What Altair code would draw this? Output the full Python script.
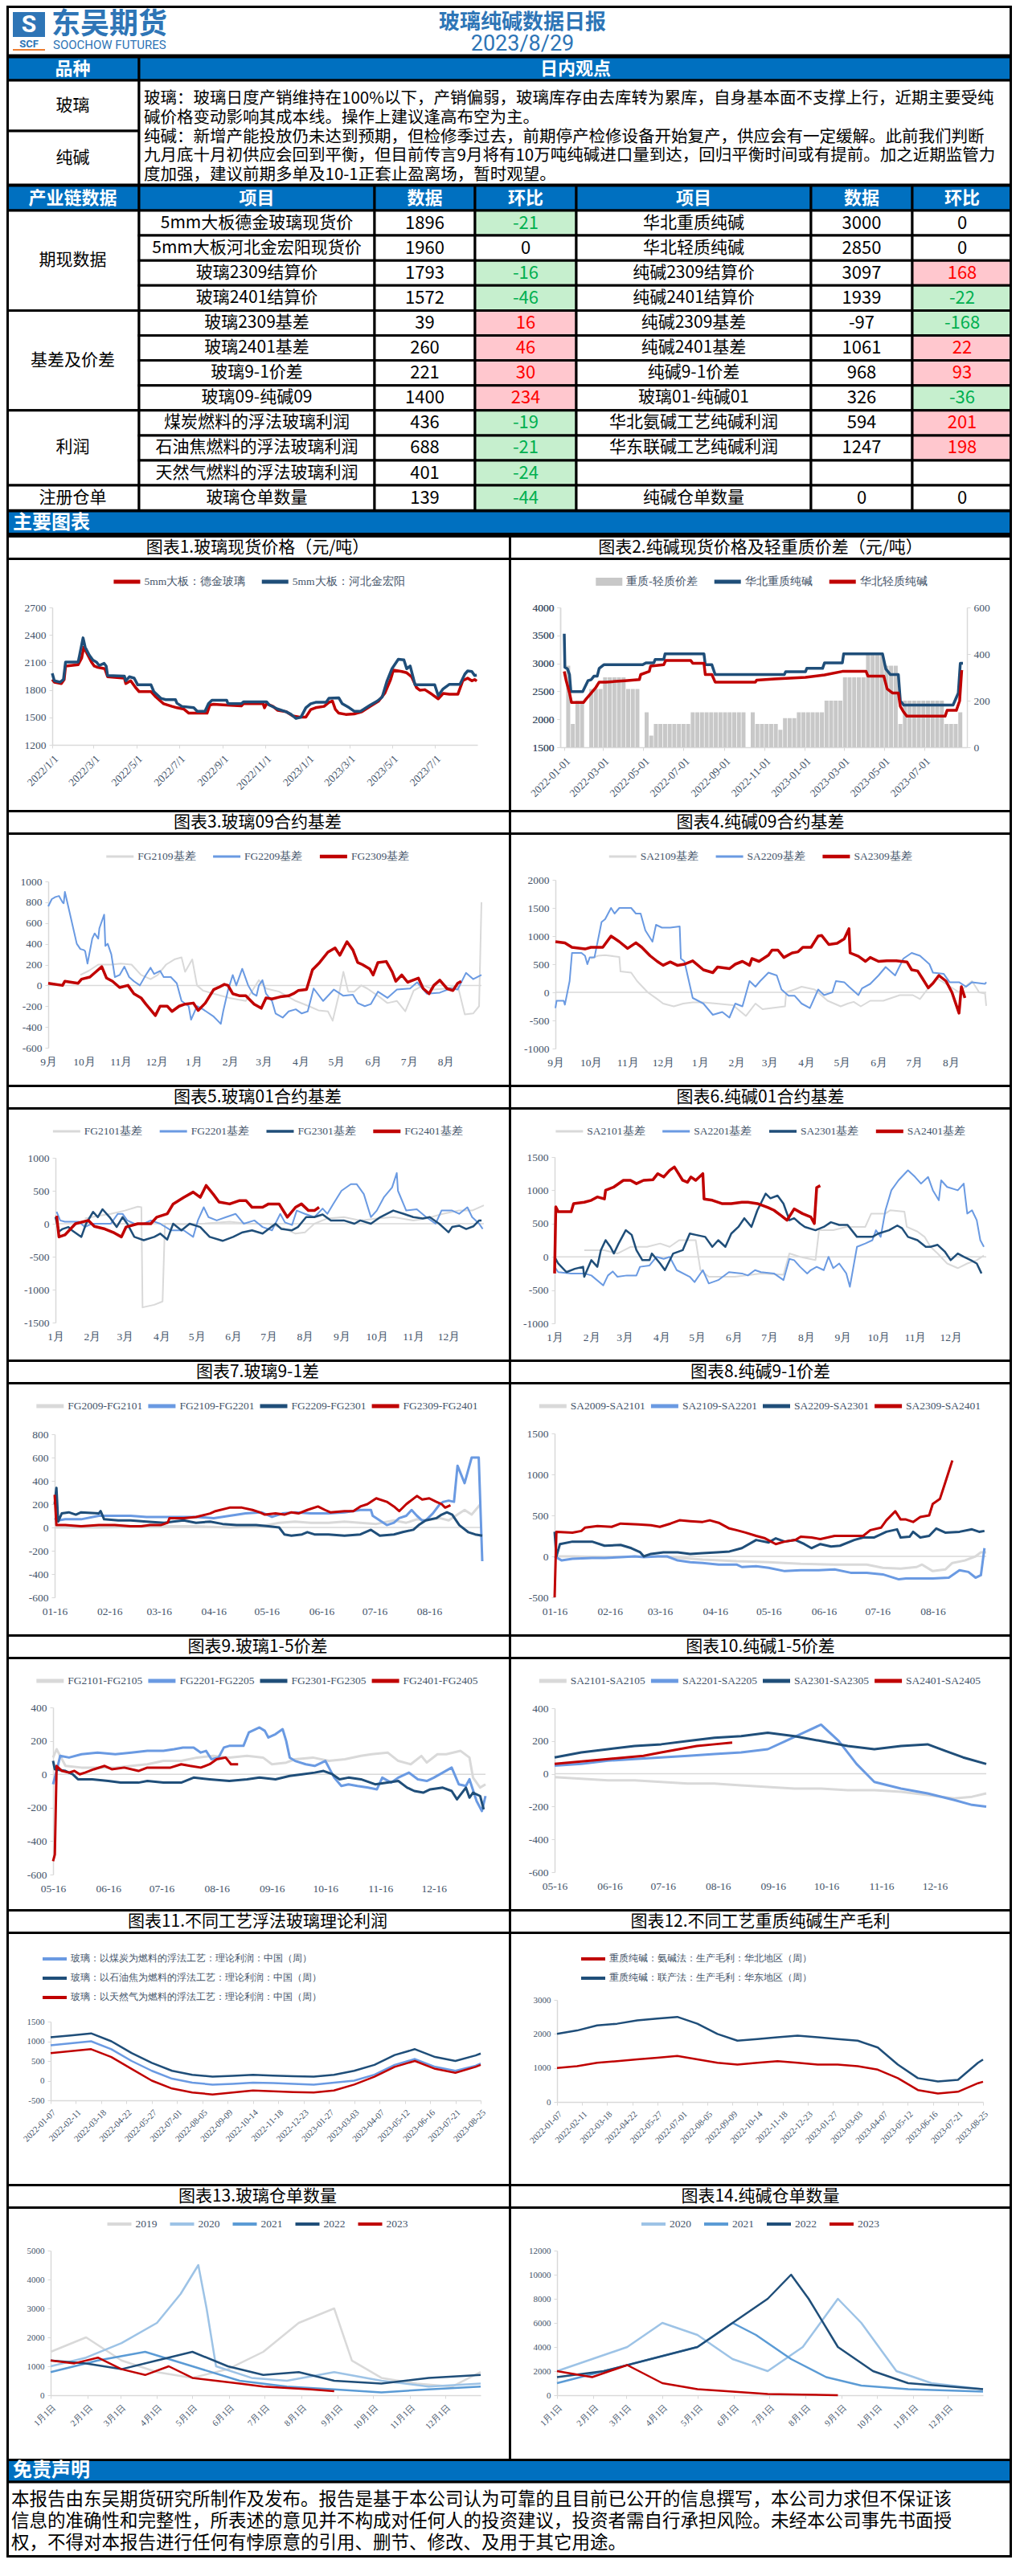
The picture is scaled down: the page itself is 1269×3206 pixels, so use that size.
import altair as alt
import pandas as pd

# ------------------------------------------------------------------ palette & fonts
CJK = "Noto Sans CJK SC"
SERIF = "Liberation Serif"
SANS = "Roboto"
INK = "#000000"
WHITE = "#FFFFFF"
LABEL_C = "#44546A"
AXIS_C = "#D9D9D9"
BAND = "#0070C0"
LOGO = "#2E75B6"
RED = "#C00000"
NAVY = "#1F4E79"
LBLUE = "#6A9AE2"
PALE = "#9DC3E6"
MIDBLUE = "#5B9BD5"
LGRAY = "#D9D9D9"
BARGRAY = "#C8C8C8"
UP_BG, UP_FG = "#FFC7CE", "#FF0000"
DN_BG, DN_FG = "#C6EFCE", "#00B050"

# ------------------------------------------------------------------ page geometry
PAGE_W = 1251
PW_L, PW_R = 625, 626
PH, TH = 314, 28
TOP_H, FOOT_H = 659, 123
COLS = [0, 165, 458, 583, 709, 1001, 1127, 1251]
ROW_TOP, ROW_H = 255, 31.1
LINE_W = 3

# ------------------------------------------------------------------ report text
REPORT_TITLE = "玻璃纯碱数据日报"
REPORT_DATE = "2023/8/29"
VIEW_LINES = [
    "玻璃：玻璃日度产销维持在100%以下，产销偏弱，玻璃库存由去库转为累库，自身基本面不支撑上行，近期主要受纯",
    "碱价格变动影响其成本线。操作上建议逢高布空为主。",
    "纯碱：新增产能投放仍未达到预期，但检修季过去，前期停产检修设备开始复产，供应会有一定缓解。此前我们判断",
    "九月底十月初供应会回到平衡，但目前传言9月将有10万吨纯碱进口量到达，回归平衡时间或有提前。加之近期监管力",
    "度加强，建议前期多单及10-1正套止盈离场，暂时观望。",
]
DISCLAIMER_LINES = [
    "本报告由东吴期货研究所制作及发布。报告是基于本公司认为可靠的且目前已公开的信息撰写，本公司力求但不保证该",
    "信息的准确性和完整性，所表述的意见并不构成对任何人的投资建议，投资者需自行承担风险。未经本公司事先书面授",
    "权，不得对本报告进行任何有悖原意的引用、删节、修改、及用于其它用途。",
]

# ------------------------------------------------------------------ data table
TABLE_HEAD = ["产业链数据", "项目", "数据", "环比", "项目", "数据", "环比"]
GROUPS = [("期现数据", 4), ("基差及价差", 4), ("利润", 3), ("注册仓单", 1)]
LEFT_ITEMS = ["5mm大板德金玻璃现货价", "5mm大板河北金宏阳现货价", "玻璃2309结算价", "玻璃2401结算价",
              "玻璃2309基差", "玻璃2401基差", "玻璃9-1价差", "玻璃09-纯碱09",
              "煤炭燃料的浮法玻璃利润", "石油焦燃料的浮法玻璃利润", "天然气燃料的浮法玻璃利润", "玻璃仓单数量"]
LEFT_VALUES = [1896, 1960, 1793, 1572, 39, 260, 221, 1400, 436, 688, 401, 139]
LEFT_CHANGES = [-21, 0, -16, -46, 16, 46, 30, 234, -19, -21, -24, -44]
RIGHT_ITEMS = ["华北重质纯碱", "华北轻质纯碱", "纯碱2309结算价", "纯碱2401结算价",
               "纯碱2309基差", "纯碱2401基差", "纯碱9-1价差", "玻璃01-纯碱01",
               "华北氨碱工艺纯碱利润", "华东联碱工艺纯碱利润", "", "纯碱仓单数量"]
RIGHT_VALUES = [3000, 2850, 3097, 1939, -97, 1061, 968, 326, 594, 1247, None, 0]
RIGHT_CHANGES = [0, 0, 168, -22, -168, 22, 93, -36, 201, 198, None, 0]

# ------------------------------------------------------------------ chart series: (day offset, value)
# Chart 1, days from 2022-01-01
GLASS_DEJIN = [(0,1913),(3,1884),(13,1869),(17,1913),(19,2060),(37,2075),(42,2148),(45,2266),(49,2207),(56,2104),(60,2060),(65,2046),(75,2031),(79,1943),(103,1928),(105,1869),(112,1899),(119,1825),(124,1781),(141,1781),(148,1722),(159,1649),(171,1620),(178,1605),(188,1590),(195,1546),(221,1546),(225,1634),(230,1643),(249,1634),(270,1626),(273,1649),(301,1649),(303,1605),(306,1649),(315,1620),(322,1576),(334,1561),(343,1517),(353,1502),(362,1502),(369,1585),(376,1605),(388,1620),(395,1664),(400,1678),(404,1590),(409,1546),(419,1532),(431,1537),(442,1561),(454,1620),(466,1678),(475,1767),(483,1913),(487,2016),(499,2001),(506,1987),(513,1943),(520,1825),(525,1796),(532,1802),(542,1752),(551,1702),(558,1761),(567,1752),(579,1752),(586,1899),(593,1928),(599,1899),(603,1913),(606,1896)]
GLASS_JINHONGYANG = [(0,1981),(3,1899),(11,1884),(16,1913),(19,2104),(37,2104),(39,2178),(44,2368),(47,2266),(53,2178),(58,2125),(63,2104),(67,2066),(74,2090),(77,2060),(79,1957),(103,1949),(105,1899),(110,1943),(117,1928),(122,1855),(141,1855),(145,1781),(155,1708),(162,1693),(176,1693),(178,1655),(185,1620),(202,1605),(207,1567),(218,1567),(223,1649),(228,1687),(249,1687),(251,1649),(270,1649),(273,1670),(306,1670),(310,1634),(322,1590),(334,1561),(341,1532),(348,1488),(355,1502),(362,1605),(369,1649),(376,1664),(391,1664),(395,1708),(409,1714),(414,1649),(424,1605),(431,1567),(440,1567),(445,1590),(454,1634),(464,1678),(471,1722),(478,1899),(485,2031),(494,2134),(502,2128),(506,2031),(511,2060),(518,1855),(546,1855),(551,1737),(558,1811),(567,1861),(582,1861),(589,1972),(593,2007),(599,2001),(603,1957),(606,1960)]

# Chart 2, days from 2022-01-01
SODA_HEAVY = [(0,3530),(1,2928),(5,2900),(8,2800),(10,2495),(28,2495),(36,2690),(41,2710),(45,2770),(50,2770),(53,2910),(60,2975),(119,2975),(124,3010),(136,3010),(138,3070),(151,3070),(153,3170),(212,3170),(214,2975),(224,2975),(229,2800),(334,2800),(336,2850),(366,2850),(368,2910),(392,2910),(395,3010),(422,3010),(424,3170),(483,3170),(488,2900),(495,2800),(507,2800),(510,2330),(515,2255),(590,2255),(598,2470),(601,3000),(605,3000)]
SODA_LIGHT = [(0,2856),(3,2688),(8,2470),(11,2300),(29,2300),(34,2375),(41,2470),(48,2570),(53,2665),(63,2665),(92,2690),(114,2710),(116,2800),(129,2855),(131,2950),(151,2975),(154,3050),(192,3050),(195,3000),(212,3000),(214,2800),(224,2800),(229,2665),(290,2665),(292,2700),(319,2720),(366,2750),(395,2793),(422,2856),(458,2856),(461,2770),(485,2770),(490,2543),(498,2470),(507,2470),(510,2230),(515,2130),(520,2055),(578,2055),(581,2160),(595,2160),(600,2330),(603,2856),(605,2850)]
# weekly heavy-light spread (Fridays from 2022-01-07)
SPREAD_WEEKLY = [350,100,200,200, 0,250,250,250, 300,300,300,300, 300,250,250,250,0, 150,50,100,100,
                 100,100,100,100, 100,100,150,150,150, 150,150,150,150, 150,150,150,150,150,
                 0,150,100,100, 100,100,100,75, 125,125,125,150,150,
                 150,150,150,150, 200,200,200,200, 300,300,300,300,300, 400,400,400,400,
                 350,350,350,100, 200,200,200,200,200, 200,200,200,200, 100,100,100,150]

# Chart 3, days from 2022-09-01
FG2109_BASIS = [(27,100),(34,140),(42,200),(53,200),(61,210),(70,200),(78,100),(86,60),(92,100),(99,200),(106,250),(112,270),(115,130),(121,250),(125,0),(130,-50),(139,-80),(152,-120),(166,-150),(177,50),(183,-30),(194,-60),(208,-150),(219,-200),(227,-240),(235,-250),(239,-340),(244,-100),(248,130),(252,-60),(257,-60),(263,0),(268,-30),(277,-100),(285,-170),(293,-150),(300,-250),(307,-50),(315,0),(324,-40),(335,-30),(344,0),(350,-280),(357,-270),(362,-200),(364,800)]
FG2209_BASIS = [(0,760),(3,830),(6,850),(9,860),(12,800),(13,790),(14,900),(18,700),(24,400),(27,350),(30,340),(31,330),(33,210),(37,450),(39,500),(42,450),(43,550),(47,680),(48,380),(50,400),(53,300),(56,80),(60,100),(64,180),(68,80),(72,40),(77,0),(82,100),(86,170),(89,110),(94,140),(97,80),(103,80),(108,20),(112,-150),(118,-200),(120,-330),(125,-200),(130,-230),(139,-300),(145,-370),(147,-250),(151,-50),(155,100),(158,0),(163,160),(168,0),(172,-80),(175,-100),(177,0),(180,50),(183,-80),(188,-150),(191,-270),(197,-310),(202,-250),(208,-230),(213,-270),(218,-250),(223,-30),(231,-150),(240,-40),(248,-100),(256,-90),(260,-170),(266,-200),(271,-180),(277,-60),(285,-120),(293,-40),(304,-30),(310,30),(318,-80),(329,-70),(338,-30),(344,-40),(351,120),(357,60),(364,100)]
FG2309_BASIS = [(0,20),(12,0),(14,40),(25,20),(28,60),(35,80),(41,140),(45,180),(49,70),(54,40),(60,-20),(67,0),(72,-80),(78,-120),(82,-180),(85,-220),(90,-290),(94,-200),(100,-200),(104,-250),(110,-200),(115,-180),(122,-170),(126,-240),(132,-170),(139,-40),(143,-20),(148,10),(151,0),(155,-80),(161,-100),(166,-100),(173,-180),(179,-220),(183,-120),(188,-130),(195,-110),(202,-100),(206,-80),(210,-50),(217,-40),(222,150),(228,220),(235,320),(241,360),(245,290),(251,420),(256,340),(260,220),(264,200),(270,160),(273,100),(277,220),(284,230),(289,130),(292,40),(297,100),(302,30),(311,70),(315,-30),(320,-80),(324,0),(329,50),(335,-30),(340,-50),(344,20),(347,40)]

# Chart 4, days from 2022-09-01
SA2109_BASIS = [(30,600),(36,650),(42,660),(54,630),(55,370),(64,350),(69,200),(78,0),(86,-120),(91,-200),(100,-250),(108,-200),(116,-180),(125,-180),(136,-200),(150,-230),(161,-420),(169,-200),(175,-300),(186,-270),(194,-250),(195,0),(202,50),(208,100),(219,50),(230,-150),(241,-250),(247,-200),(252,-170),(258,-250),(266,-150),(277,-150),(291,-50),(302,-50),(308,-120),(316,100),(322,250),(330,150),(341,0),(349,150),(352,200),(358,0),(363,-20),(364,-240)]
SA2209_BASIS = [(0,-280),(1,-150),(7,-150),(8,-220),(12,200),(14,700),(22,700),(25,650),(27,500),(29,620),(33,620),(39,1250),(42,1300),(47,1500),(50,1400),(54,1500),(64,1500),(68,1400),(72,1400),(76,1100),(82,900),(85,1200),(90,1150),(97,1150),(105,1170),(106,600),(109,550),(116,-100),(125,-200),(133,-400),(141,-350),(147,-450),(152,-200),(158,-250),(164,200),(169,100),(173,200),(180,350),(187,300),(191,50),(197,-60),(202,-60),(208,-200),(215,-280),(222,50),(227,-50),(234,0),(237,200),(244,180),(248,100),(256,-50),(259,70),(266,150),(273,300),(279,450),(287,300),(294,600),(301,700),(308,650),(316,500),(319,350),(328,330),(333,180),(341,180),(347,100),(352,180),(363,150),(364,180)]
SA2309_BASIS = [(0,900),(8,880),(14,800),(25,770),(30,800),(40,800),(47,1000),(54,900),(61,780),(68,880),(73,800),(80,650),(86,550),(91,480),(97,540),(103,480),(109,500),(116,560),(125,400),(133,350),(137,450),(147,420),(152,500),(158,550),(164,480),(166,600),(172,550),(180,660),(183,750),(188,750),(193,620),(200,700),(205,720),(209,800),(216,800),(222,1000),(225,1010),(231,850),(238,870),(244,950),(248,1130),(249,700),(256,640),(262,550),(266,620),(273,550),(280,560),(288,560),(297,540),(301,400),(306,380),(310,250),(315,80),(319,160),(324,300),(330,200),(335,0),(341,-370),(343,100),(346,-100)]

# Chart 5, days from 2023-01-01
FG2101_BASIS = [(25,80),(36,120),(47,150),(59,200),(70,260),(73,250),(74,-1270),(84,-1230),(91,-1180),(93,0),(109,-10),(125,0),(148,30),(164,0),(181,0),(195,-80),(204,-150),(212,-130),(220,0),(231,80),(245,100),(259,50),(273,80),(287,100),(304,50),(315,80),(329,150),(343,200),(354,200),(364,280)]
FG2201_BASIS = [(1,180),(4,50),(8,30),(20,30),(25,-50),(31,0),(36,0),(47,0),(53,150),(57,150),(61,50),(67,0),(75,0),(81,50),(89,0),(98,-100),(109,-100),(117,-200),(121,50),(126,250),(130,100),(137,50),(145,100),(153,150),(160,0),(169,50),(176,-50),(184,-100),(191,150),(195,20),(201,-20),(205,200),(212,150),(220,100),(227,230),(231,150),(236,300),(243,500),(251,600),(256,600),(262,450),(268,100),(273,200),(279,400),(286,550),(290,770),(291,500),(298,200),(307,220),(315,100),(323,0),(328,200),(337,200),(343,150),(350,250),(354,100),(360,0),(363,-80)]
FG2301_BASIS = [(0,100),(3,-120),(6,-80),(11,-50),(14,-100),(22,-200),(26,0),(32,180),(36,100),(40,220),(46,100),(52,-50),(57,100),(61,0),(67,-200),(75,-250),(84,-200),(89,-150),(95,-240),(100,0),(107,-100),(114,0),(123,-50),(131,-200),(142,-260),(151,-200),(159,-130),(167,-100),(176,-150),(187,0),(192,-80),(201,-100),(206,-50),(213,100),(220,100),(227,140),(234,50),(245,50),(254,0),(259,50),(268,0),(276,100),(287,200),(296,150),(304,100),(312,80),(318,100),(326,0),(334,-130),(337,-50),(343,-30),(349,-80),(355,-40),(360,50),(362,50)]
FG2401_BASIS = [(1,120),(3,-200),(8,-170),(17,0),(28,50),(33,-40),(42,-80),(50,-140),(56,-200),(60,-50),(70,0),(81,0),(86,100),(95,150),(100,300),(109,400),(117,480),(123,400),(128,580),(134,450),(139,330),(148,300),(156,350),(162,350),(167,250),(176,250),(181,300),(190,300),(197,100),(204,250),(209,300),(215,200),(220,200),(224,250)]

# Chart 6, days from 2023-01-01
SA2101_BASIS = [(25,100),(42,100),(53,50),(64,150),(78,150),(89,200),(97,150),(105,250),(119,250),(123,-200),(130,-300),(152,-300),(174,-250),(193,-270),(198,50),(207,0),(220,-50),(223,400),(235,400),(246,450),(262,450),(267,650),(279,650),(283,700),(295,680),(297,450),(306,380),(312,300),(317,150),(323,50),(331,-100),(340,-170),(348,-100),(356,-50),(362,20)]
SA2201_BASIS = [(0,-150),(3,-230),(14,-250),(25,-250),(31,-280),(41,-430),(45,-280),(49,-220),(53,-300),(61,-280),(69,-280),(72,-150),(80,-130),(86,0),(92,-30),(97,0),(103,-200),(114,-300),(118,-380),(125,-200),(130,-400),(138,-350),(147,-230),(158,-250),(163,-280),(169,-200),(174,-230),(185,-250),(193,-350),(198,-30),(202,-50),(207,-150),(213,-250),(216,-200),(221,-150),(227,-200),(231,0),(235,-170),(240,-100),(246,-250),(249,-450),(255,150),(262,200),(268,250),(271,400),(275,300),(279,700),(284,1000),(290,1150),(298,1300),(304,1200),(309,1100),(315,1200),(319,1000),(324,850),(326,1150),(331,1050),(340,1000),(345,1100),(348,650),(352,700),(356,550),(359,250),(362,150)]
SA2301_BASIS = [(0,0),(3,-100),(10,-230),(17,-180),(24,-150),(25,-300),(31,-50),(36,-150),(39,100),(43,250),(47,150),(50,50),(54,200),(60,400),(65,330),(69,100),(74,-50),(80,-50),(82,50),(89,-100),(93,-200),(100,50),(108,100),(114,350),(119,330),(127,300),(133,150),(138,250),(144,150),(149,350),(155,450),(160,580),(166,450),(171,700),(178,950),(182,880),(188,920),(193,800),(198,550),(202,580),(207,500),(211,450),(220,400),(227,450),(233,520),(240,480),(247,480),(255,300),(268,300),(273,350),(282,400),(289,470),(293,430),(298,300),(306,250),(313,150),(317,150),(323,180),(329,80),(334,-50),(340,50),(345,0),(351,-50),(356,-100),(360,-250)]
SA2401_BASIS = [(0,-250),(1,750),(3,680),(14,680),(16,800),(25,820),(31,850),(36,900),(42,870),(43,1000),(50,1050),(58,1150),(64,1150),(69,1100),(75,1150),(83,1160),(87,1250),(92,1200),(97,1300),(101,1350),(108,1150),(112,1120),(115,1200),(119,1150),(125,1250),(126,870),(133,850),(141,800),(149,800),(158,820),(163,820),(171,800),(180,740),(185,700),(191,620),(196,550),(202,720),(209,650),(216,600),(219,500),(221,1040),(224,1070)]

# Chart 7, days from 2023-01-16
FG2009_2101 = [(0,0),(25,0),(62,10),(80,10),(99,0),(117,10),(127,40),(136,50),(145,40),(155,40),(164,50),(173,40),(182,30),(192,60),(199,40),(205,70),(210,60),(218,80),(223,60),(229,120),(232,150),(236,110),(241,200)]
FG2109_2201 = [(0,80),(2,60),(6,70),(15,70),(25,100),(34,100),(43,100),(52,90),(62,90),(71,90),(80,90),(90,80),(99,100),(108,120),(117,130),(123,90),(129,120),(136,130),(145,120),(155,120),(164,130),(173,150),(179,150),(180,100),(184,60),(188,20),(192,40),(195,80),(199,100),(202,150),(205,100),(208,60),(210,60),(214,120),(218,200),(220,220),(223,230),(226,220),(228,530),(232,380),(236,600),(240,600),(242,-290)]
FG2209_2301 = [(0,200),(1,340),(2,50),(4,120),(8,130),(12,110),(15,130),(25,120),(26,140),(28,70),(36,60),(43,60),(52,50),(62,40),(67,50),(73,60),(80,40),(88,50),(95,30),(103,20),(114,20),(121,10),(127,0),(130,-60),(134,-70),(140,-60),(143,-40),(147,-60),(155,-60),(164,-70),(173,-60),(179,-20),(184,-70),(192,-60),(197,-40),(203,-20),(206,20),(210,60),(216,80),(219,110),(222,130),(225,110),(229,20),(234,-40),(238,-60),(242,-70)]
FG2309_2401 = [(0,280),(1,20),(6,20),(15,10),(25,20),(34,20),(43,10),(49,10),(54,20),(60,20),(64,40),(65,80),(73,80),(80,90),(88,120),(91,140),(99,170),(106,170),(112,150),(116,130),(119,110),(125,120),(130,110),(134,130),(138,120),(143,150),(149,180),(153,150),(156,130),(164,140),(169,140),(173,180),(177,200),(182,250),(188,220),(192,180),(195,140),(199,200),(205,270),(208,240),(212,250),(216,220),(219,200),(221,170),(224,190)]

# Chart 8, days from 2023-01-16
SA2009_2101 = [(0,0),(10,0),(28,-10),(56,0),(65,-10),(83,-40),(102,-60),(120,-70),(138,-90),(157,-100),(175,-100),(184,-140),(194,-150),(203,-130),(206,-100),(212,-180),(219,-160),(223,-80),(230,-50),(236,0),(239,50),(242,50)]
SA2109_2201 = [(0,0),(4,-50),(10,-30),(21,-20),(28,-20),(37,-10),(45,0),(50,-10),(58,0),(63,0),(69,-50),(76,-70),(83,-80),(92,-100),(102,-100),(105,-130),(113,-120),(120,-140),(129,-180),(138,-170),(148,-170),(157,-160),(166,-200),(175,-200),(184,-220),(193,-280),(197,-270),(205,-270),(212,-270),(221,-260),(227,-170),(232,-190),(236,-260),(239,-230),(241,100)]
SA2209_2301 = [(0,300),(1,0),(3,150),(10,180),(21,180),(28,130),(37,140),(43,100),(48,50),(50,0),(54,30),(61,50),(69,50),(76,30),(83,40),(91,50),(98,60),(105,100),(113,200),(120,170),(124,220),(129,180),(135,200),(140,150),(144,100),(149,150),(155,120),(160,130),(168,200),(173,230),(179,230),(186,300),(192,330),(194,230),(199,240),(201,300),(205,230),(210,250),(214,340),(219,290),(227,300),(234,330),(238,300),(241,310)]
SA2309_2401 = [(0,-500),(1,300),(10,290),(15,310),(17,350),(24,370),(32,360),(37,400),(47,390),(54,380),(59,360),(65,400),(70,440),(76,430),(83,420),(87,440),(92,410),(98,340),(102,320),(107,290),(113,250),(118,220),(124,150),(129,180),(135,200),(138,240),(144,230),(149,210),(157,250),(166,250),(173,250),(177,320),(183,350),(186,440),(191,550),(194,450),(197,450),(201,420),(205,480),(210,500),(212,640),(216,700),(219,900),(223,1170)]

# Chart 9, days from 2023-05-16
FG2101_2105 = [(0,100),(2,150),(7,50),(16,40),(25,40),(35,40),(44,50),(53,60),(62,80),(72,80),(81,100),(90,110),(99,100),(109,110),(118,100),(123,60),(131,70),(136,90),(146,100),(155,80),(164,90),(173,110),(179,120),(188,130),(194,80),(201,60),(207,110),(210,70),(216,120),(221,120),(229,140),(234,100),(236,-20),(240,-80),(243,-60)]
FG2201_2205 = [(0,-60),(2,20),(4,110),(9,100),(16,120),(25,130),(35,120),(44,130),(53,140),(62,140),(68,150),(73,160),(79,160),(83,130),(86,140),(89,90),(93,100),(96,160),(99,170),(107,170),(110,250),(116,280),(119,260),(121,220),(125,240),(129,270),(131,200),(133,100),(136,80),(142,60),(147,50),(153,80),(158,-20),(162,-70),(166,-60),(171,-70),(177,-80),(182,-90),(185,-20),(190,-50),(194,-20),(200,10),(205,-30),(210,-40),(214,-20),(219,10),(224,40),(228,-60),(232,-70),(234,-30),(238,-160),(241,-220),(243,-130)]
FG2301_2305 = [(0,80),(1,30),(7,20),(11,0),(14,-30),(22,-30),(31,-40),(38,-50),(48,-50),(53,-40),(62,-50),(72,-50),(79,-20),(88,-30),(99,-40),(109,-30),(116,-20),(125,-30),(133,-10),(140,0),(147,10),(152,20),(157,0),(161,-30),(166,-20),(173,-30),(181,-60),(188,-50),(194,-40),(199,-80),(203,-100),(208,-110),(212,-90),(219,-80),(224,-100),(227,-150),(232,-80),(234,-140),(236,-110),(240,-130),(242,-210)]
FG2401_2405 = [(0,-520),(1,-480),(2,50),(5,20),(9,10),(12,20),(15,0),(18,10),(23,30),(29,50),(33,30),(40,40),(48,20),(53,40),(59,40),(66,40),(72,60),(77,50),(83,40),(88,60),(92,90),(97,100),(100,60),(104,60)]

# Chart 10, days from 2023-05-16
SA2101_2105 = [(0,-20),(15,-30),(30,-40),(45,-40),(60,-50),(75,-60),(90,-60),(105,-70),(120,-80),(135,-90),(150,-90),(165,-100),(180,-100),(195,-110),(210,-130),(225,-150),(235,-140),(243,-120)]
SA2201_2205 = [(0,50),(15,60),(30,80),(45,90),(60,100),(75,110),(90,120),(105,130),(120,150),(130,200),(140,250),(150,300),(160,200),(170,60),(180,-50),(195,-90),(210,-120),(225,-160),(235,-190),(243,-200)]
SA2301_2305 = [(0,100),(15,130),(30,150),(45,170),(60,180),(75,200),(90,220),(105,230),(120,250),(135,230),(150,200),(165,170),(180,150),(195,170),(210,180),(220,140),(230,100),(243,60)]
SA2401_2405 = [(0,60),(10,70),(20,80),(30,90),(40,100),(50,110),(60,130),(70,150),(80,170),(90,180),(100,190)]

# Chart 11, days from 2022-01-07
PROFIT_COAL = [(0,900),(28,950),(56,1000),(84,800),(112,500),(140,250),(168,50),(196,-50),(224,-100),(252,-80),(280,-50),(308,-60),(336,-80),(364,-100),(392,-50),(420,0),(448,150),(476,400),(504,550),(532,350),(560,250),(588,380),(595,436)]
PROFIT_PETCOKE = [(0,1100),(28,1150),(56,1200),(84,1000),(112,700),(140,450),(168,250),(196,150),(224,100),(252,120),(280,150),(308,130),(336,110),(364,100),(392,150),(420,250),(448,400),(476,650),(504,800),(532,600),(560,500),(588,640),(595,688)]
PROFIT_GAS = [(0,700),(28,750),(56,800),(84,600),(112,300),(140,0),(168,-200),(196,-300),(224,-350),(252,-300),(280,-250),(308,-270),(336,-290),(364,-300),(392,-250),(420,-100),(448,100),(476,350),(504,500),(532,300),(560,200),(588,350),(595,401)]

# Chart 12, days from 2022-01-07
SODA_AMMONIA = [(0,1000),(28,1050),(56,1150),(84,1200),(112,1250),(140,1300),(168,1350),(196,1250),(224,1150),(252,1100),(280,1150),(308,1200),(336,1150),(364,1100),(392,1100),(420,1050),(448,950),(476,700),(504,350),(532,250),(560,300),(588,550),(595,594)]
SODA_JOINT = [(0,2000),(28,2100),(56,2250),(84,2300),(112,2400),(140,2450),(168,2500),(196,2300),(224,2000),(252,1800),(280,1850),(308,1900),(336,1950),(364,1900),(392,1850),(420,1800),(448,1600),(476,1100),(504,700),(532,600),(560,650),(588,1150),(595,1247)]

# Chart 13, glass warehouse receipts, days from Jan 1 of each year
GLASS_WR_2019 = [(0,1500),(30,2000),(60,1200),(90,800),(120,600),(150,900),(180,1500),(210,2500),(240,3000),(255,1200),(280,600),(310,400),(340,300),(364,800)]
GLASS_WR_2020 = [(0,1000),(30,1300),(60,1800),(90,2500),(110,3500),(125,4500),(132,3000),(140,1000),(170,600),(200,500),(240,800),(280,500),(320,300),(364,400)]
GLASS_WR_2021 = [(0,800),(40,1200),(80,1500),(120,1000),(160,500),(200,300),(240,200),(280,100),(320,200),(364,300)]
GLASS_WR_2022 = [(0,1200),(30,1100),(60,900),(90,1200),(120,1500),(150,1000),(180,700),(210,800),(240,500),(280,400),(320,600),(364,700)]
GLASS_WR_2023 = [(0,1200),(20,1100),(40,1300),(60,900),(80,700),(100,1000),(120,600),(140,500),(160,400),(180,300),(200,250),(220,200),(240,139)]

# Chart 14, soda warehouse receipts, days from Jan 1 of each year
SODA_WR_2020 = [(0,2000),(30,3000),(60,4000),(90,6000),(120,5000),(150,3000),(180,2000),(210,4000),(240,8000),(260,6000),(290,2000),(320,1000),(364,500)]
SODA_WR_2021 = [(0,1000),(40,2000),(80,3000),(120,4000),(150,6000),(170,5000),(200,3000),(230,1500),(260,800),(300,500),(364,300)]
SODA_WR_2022 = [(0,1500),(40,2000),(80,3000),(120,4000),(150,6000),(180,8000),(200,10000),(215,8000),(240,4000),(270,2000),(300,1000),(364,500)]
SODA_WR_2023 = [(0,2000),(30,1500),(60,2500),(90,1000),(120,500),(150,300),(180,100),(210,50),(240,0)]

ONE = pd.DataFrame({"k": [0]})


# ------------------------------------------------------------------ helpers
def dt(s):
    t = pd.Timestamp(s)
    return alt.DateTime(year=t.year, month=t.month, date=t.day)


def series_frame(pairs, start):
    df = pd.DataFrame(pairs, columns=["d", "v"])
    df["date"] = pd.Timestamp(start) + pd.to_timedelta(df["d"], unit="D")
    return df[["date", "v"]]


def text_w(s, fs):
    w = 0.0
    for ch in s:
        if ord(ch) >= 0x2E80:
            w += 1.0
        elif ch.isupper():
            w += 0.66
        elif ch == "m":
            w += 0.78
        elif ch in "-.:/":
            w += 0.33
        else:
            w += 0.5
    return w * fs


def bar_rect(x, x2, y, y2):
    return alt.Chart(ONE).mark_rect(color=INK).encode(
        x=alt.value(x), x2=alt.value(x2), y=alt.value(y), y2=alt.value(y2))


def frame_layers(w, h):
    """Top and left border of a cell, plus the right border on the right-hand column."""
    out = [bar_rect(0, w, 0, LINE_W), bar_rect(0, LINE_W, 0, h)]
    if w == PW_R:
        out.append(bar_rect(w - LINE_W, w, 0, h))
    return out


def legend_layers(items, y, cx=None, left=None, fs=13.5, sw=34, pad=5, gap=16, dy=0):
    widths = [sw + pad + text_w(lbl, fs) for lbl, _, _, _ in items]
    if dy:
        xs = [left] * len(items)
        ys = [y + i * dy for i in range(len(items))]
    else:
        total = sum(widths) + gap * (len(items) - 1)
        x = cx - total / 2
        xs, ys = [], []
        for w in widths:
            xs.append(x)
            ys.append(y)
            x += w + gap
    out = []
    for (lbl, color, width, kind), x0, y0 in zip(items, xs, ys):
        if kind == "box":
            sym = alt.Chart(ONE).mark_rect(color=color).encode(
                x=alt.value(x0), x2=alt.value(x0 + sw), y=alt.value(y0 - 5), y2=alt.value(y0 + 5))
        else:
            sym = alt.Chart(ONE).mark_rect(color=color).encode(
                x=alt.value(x0), x2=alt.value(x0 + sw),
                y=alt.value(y0 - width / 2), y2=alt.value(y0 + width / 2))
        lab = alt.Chart(ONE).mark_text(text=lbl, align="left", baseline="middle", font=SERIF,
                                       fontSize=fs, color=LABEL_C).encode(
            x=alt.value(x0 + sw + pad), y=alt.value(y0))
        out += [sym, lab]
    return out


def y_axis(vals, offset, orient="left", fs=13.5):
    return alt.Axis(orient=orient, values=list(vals), offset=offset, title=None, grid=False,
                    domainColor=AXIS_C, domainWidth=1.5, ticks=True, tickColor=AXIS_C, tickSize=4,
                    labelColor=LABEL_C, labelFont=SERIF, labelFontSize=fs, labelPadding=4,
                    labelExpr="'' + datum.value", labelOverlap=False, labelFlush=False)


def x_axis(vals, fmt, offset, angle=None, domain=False, fs=13.5, pad=10):
    kw = dict(values=vals, format=fmt, offset=offset, title=None, grid=False, domain=domain,
              domainColor=AXIS_C, domainWidth=1.5, ticks=domain, tickColor=AXIS_C, tickSize=4,
              labelColor=LABEL_C, labelFont=SERIF, labelFontSize=fs, labelPadding=pad,
              labelOverlap=False, labelFlush=False)
    if angle is not None:
        kw["labelAngle"] = angle
    return alt.Axis(**kw)


def line_panel(w, rect, start, xdom, xticks, xfmt, ydom, ystep, series, legend,
               angle=None, zero=True, xline=False, label_pad=10, fs=13.5):
    px0, px1, py0, py1 = rect
    xs = alt.Scale(domain=[dt(xdom[0]), dt(xdom[1])], range=[px0, px1], nice=False)
    ys = alt.Scale(domain=list(ydom), range=[py1, py0], nice=False, zero=False)
    X = alt.X("date:T", scale=xs,
              axis=x_axis([dt(t) for t in xticks], xfmt, py1 - PH, angle, xline, fs, label_pad))
    Y = alt.Y("v:Q", scale=ys, axis=y_axis(range(ydom[0], ydom[1] + 1, ystep), -px0, fs=fs))
    layers = []
    if zero:
        layers.append(alt.Chart(pd.DataFrame({"v": [0]})).mark_rule(color=AXIS_C, strokeWidth=1.5)
                      .encode(x=alt.value(px0), x2=alt.value(px1), y=Y))
    for pairs, color, width in series:
        layers.append(alt.Chart(series_frame(pairs, start))
                      .mark_line(color=color, strokeWidth=width, strokeJoin="round")
                      .encode(x=X, y=Y))
    layers += legend
    layers += frame_layers(w, PH)
    return alt.layer(*layers).properties(width=w, height=PH)


def titled(title, chart, w):
    head = alt.layer(
        alt.Chart(ONE).mark_text(text=title, font=CJK, fontSize=21, color=INK).encode(
            x=alt.value(w / 2), y=alt.value(TH / 2 + 1.5)),
        *frame_layers(w, TH)).properties(width=w, height=TH)
    return alt.vconcat(head, chart, spacing=0)


def canvas(rects, texts, h):
    rdf = pd.DataFrame(rects)
    layers = [alt.Chart(rdf).mark_rect().encode(
        x=alt.X("x:Q", scale=None), x2="x2", y=alt.Y("y:Q", scale=None), y2="y2",
        fill=alt.Fill("fill:N", scale=None), stroke=alt.Stroke("stroke:N", scale=None),
        strokeWidth=alt.StrokeWidth("sw:Q", scale=None))]
    tdf = pd.DataFrame(texts)
    for (align, bold, font), g in tdf.groupby(["align", "bold", "font"]):
        layers.append(alt.Chart(g.drop(columns=["align", "bold", "font"])).mark_text(
            align=align, baseline="middle", font=font, fontWeight="bold" if bold else "normal").encode(
            x=alt.X("x:Q", scale=None), y=alt.Y("y:Q", scale=None), text="t:N",
            color=alt.Color("c:N", scale=None), size=alt.Size("fs:Q", scale=None)))
    return alt.layer(*layers).properties(width=PAGE_W, height=h)


def clamp_rect(x, x2, y, y2, h):
    e = LINE_W / 2
    return max(x, e), min(x2, PAGE_W - e), max(y, e), min(y2, h - e)


# ------------------------------------------------------------------ header, views and data table
def build_top():
    R, T = [], []

    def rect(x, x2, y, y2, fill, stroke=INK, sw=LINE_W):
        x, x2, y, y2 = clamp_rect(x, x2, y, y2, TOP_H)
        R.append(dict(x=x, x2=x2, y=y, y2=y2, fill=fill, stroke=stroke, sw=sw))

    def text(x, y, t, c=INK, fs=21, align="center", bold=False, font=CJK):
        T.append(dict(x=x, y=y, t=t, c=c, fs=fs, align=align, bold=bold, font=font))

    W = PAGE_W
    rect(0, W, 0, 62, WHITE)
    rect(8, 48, 8, 39, LOGO, stroke=LOGO, sw=0)
    text(28, 24, "S", WHITE, 30, bold=True, font=SANS)
    text(56, 24, "东吴期货", LOGO, 36, "left", True)
    text(28, 48, "SCF", LOGO, 13, bold=True, font=SANS)
    rect(8, 48, 54, 56, "#ED7D31", stroke="#ED7D31", sw=0)
    text(58, 49, "SOOCHOW FUTURES", LOGO, 15, "left", font=SANS)
    text(642, 21, REPORT_TITLE, LOGO, 26, bold=True)
    text(642, 48, REPORT_DATE, LOGO, 27, font=SANS)

    rect(0, COLS[1], 64, 93, BAND)
    rect(COLS[1], W, 64, 93, BAND)
    text(COLS[1] / 2, 79, "品种", WHITE, 22, bold=True)
    text((COLS[1] + W) / 2, 79, "日内观点", WHITE, 22, bold=True)
    rect(0, COLS[1], 93, 156, WHITE)
    rect(0, COLS[1], 156, 223, WHITE)
    rect(COLS[1], W, 93, 223, WHITE)
    text(COLS[1] / 2, 124.5, "玻璃")
    text(COLS[1] / 2, 189.5, "纯碱")
    for i, line in enumerate(VIEW_LINES):
        text(COLS[1] + 6, 116 + i * 23.8, line, fs=20.5, align="left")

    for j, h in enumerate(TABLE_HEAD):
        rect(COLS[j], COLS[j + 1], 224, 255, BAND)
        text((COLS[j] + COLS[j + 1]) / 2, 239.5, h, WHITE, 22, bold=True)

    r = 0
    for name, n in GROUPS:
        y0, y1 = ROW_TOP + r * ROW_H, ROW_TOP + (r + n) * ROW_H
        rect(0, COLS[1], y0, y1, WHITE)
        text(COLS[1] / 2, (y0 + y1) / 2, name)
        r += n

    sides = [(LEFT_ITEMS, LEFT_VALUES, LEFT_CHANGES), (RIGHT_ITEMS, RIGHT_VALUES, RIGHT_CHANGES)]
    for i in range(len(LEFT_ITEMS)):
        y0 = ROW_TOP + i * ROW_H
        y1 = y0 + ROW_H
        yc = (y0 + y1) / 2
        for s, (items, vals, chg) in enumerate(sides):
            c0 = 1 + 3 * s
            ch = chg[i]
            bg, fg = WHITE, INK
            if ch is not None and ch > 0:
                bg, fg = UP_BG, UP_FG
            elif ch is not None and ch < 0:
                bg, fg = DN_BG, DN_FG
            rect(COLS[c0], COLS[c0 + 1], y0, y1, WHITE)
            rect(COLS[c0 + 1], COLS[c0 + 2], y0, y1, WHITE)
            rect(COLS[c0 + 2], COLS[c0 + 3], y0, y1, bg)
            text((COLS[c0] + COLS[c0 + 1]) / 2, yc, items[i])
            text((COLS[c0 + 1] + COLS[c0 + 2]) / 2, yc, "" if vals[i] is None else str(vals[i]), fs=22)
            text((COLS[c0 + 2] + COLS[c0 + 3]) / 2, yc, "" if ch is None else str(ch), fg, 22)

    rect(0, W, 629, TOP_H, BAND)
    text(8, 643.5, "主要图表", WHITE, 24, "left", True)
    return canvas(R, T, TOP_H)


def build_footer():
    R, T = [], []
    for y0, y1, fill in [(0, 29, BAND), (29, FOOT_H, WHITE)]:
        x, x2, y, y2 = clamp_rect(0, PAGE_W, y0, y1, FOOT_H)
        R.append(dict(x=x, x2=x2, y=y, y2=y2, fill=fill, stroke=INK, sw=LINE_W))
    T.append(dict(x=8, y=15, t="免责声明", c=WHITE, fs=24, align="left", bold=True, font=CJK))
    for i, line in enumerate(DISCLAIMER_LINES):
        T.append(dict(x=6, y=51 + 27 * i, t=line, c=INK, fs=22.5, align="left", bold=False, font=CJK))
    return canvas(R, T, FOOT_H)


# ------------------------------------------------------------------ charts
MONTH_TICKS_22 = ["2022-01-01", "2022-03-01", "2022-05-01", "2022-07-01", "2022-09-01", "2022-11-01",
                  "2023-01-01", "2023-03-01", "2023-05-01", "2023-07-01"]


def chart_glass_spot(w):
    leg = legend_layers([("5mm大板：德金玻璃", RED, 5, "line"), ("5mm大板：河北金宏阳", NAVY, 5, "line")],
                        y=30, cx=w / 2, sw=33, gap=24)
    return line_panel(w, (57, 586, 62, 233), "2022-01-01", ("2022-01-01", "2023-08-31"), MONTH_TICKS_22,
                      "%Y/%-m/%-d", (1200, 2700), 300,
                      [(GLASS_DEJIN, RED, 3.5), (GLASS_JINHONGYANG, NAVY, 3.5)], leg,
                      angle=315, zero=False, xline=True, label_pad=6)


def chart_soda_spot(w):
    px0, px1, py0, py1 = 64, 570, 62, 236
    xs = alt.Scale(domain=[dt("2022-01-01"), dt("2023-08-29")], range=[px0, px1], nice=False)
    X = alt.X("date:T", scale=xs,
              axis=x_axis([dt(t) for t in MONTH_TICKS_22], "%Y-%m-%d", py1 - PH, 315, True, pad=6))
    YL = alt.Y("v:Q", scale=alt.Scale(domain=[1500, 4000], range=[py1, py0], nice=False, zero=False),
               axis=y_axis(range(1500, 4001, 500), -px0))
    YR = alt.Y("v:Q", scale=alt.Scale(domain=[0, 600], range=[py1, py0], nice=False),
               axis=y_axis(range(0, 601, 200), px1 - w, orient="right"))
    spread = pd.DataFrame({"date": pd.date_range("2022-01-07", periods=len(SPREAD_WEEKLY), freq="7D"),
                           "v": SPREAD_WEEKLY})
    bars = alt.Chart(spread).mark_bar(color=BARGRAY, size=5).encode(x=X, y=YR)
    heavy = alt.Chart(series_frame(SODA_HEAVY, "2022-01-01")).mark_line(
        color=NAVY, strokeWidth=3.5, strokeJoin="round").encode(x=X, y=YL)
    light = alt.Chart(series_frame(SODA_LIGHT, "2022-01-01")).mark_line(
        color=RED, strokeWidth=3.5, strokeJoin="round").encode(x=X, y=YL)
    leg = legend_layers([("重质-轻质价差", BARGRAY, 0, "box"), ("华北重质纯碱", NAVY, 5, "line"),
                         ("华北轻质纯碱", RED, 5, "line")], y=30, cx=w / 2, sw=33, gap=24)
    return alt.layer(bars, heavy, light, *leg, *frame_layers(w, PH)).resolve_scale(
        y="independent").properties(width=w, height=PH)


SEASON_SEP = ["2022-09-01", "2022-10-01", "2022-11-01", "2022-12-01", "2023-01-01", "2023-02-01",
              "2023-03-01", "2023-04-01", "2023-05-01", "2023-06-01", "2023-07-01", "2023-08-01"]
SEASON_JAN = ["2023-%02d-01" % m for m in range(1, 13)]
SEASON_16 = ["2023-%02d-16" % m for m in range(1, 9)]
SEASON_MAY = ["2023-%02d-16" % m for m in range(5, 13)]


def basis_legend(names, colors, widths, w):
    return legend_layers([(n, c, lw + 1, "line") for n, c, lw in zip(names, colors, widths)],
                         y=30, cx=w / 2, sw=34, gap=22)


def chart3(w):
    cols, lws = [LGRAY, LBLUE, RED], [2, 2, 3.5]
    return line_panel(w, (52, 591, 61, 268), "2022-09-01", ("2022-09-01", "2023-08-31"), SEASON_SEP,
                      "%-m月", (-600, 1000), 200,
                      list(zip([FG2109_BASIS, FG2209_BASIS, FG2309_BASIS], cols, lws)),
                      basis_legend(["FG2109基差", "FG2209基差", "FG2309基差"], cols, lws, w))


def chart4(w):
    cols, lws = [LGRAY, LBLUE, RED], [2, 2, 3.5]
    return line_panel(w, (58, 594, 59, 269), "2022-09-01", ("2022-09-01", "2023-08-31"), SEASON_SEP,
                      "%-m月", (-1000, 2000), 500,
                      list(zip([SA2109_BASIS, SA2209_BASIS, SA2309_BASIS], cols, lws)),
                      basis_legend(["SA2109基差", "SA2209基差", "SA2309基差"], cols, lws, w))


def chart5(w):
    cols, lws = [LGRAY, LBLUE, NAVY, RED], [2, 2, 2.5, 3.5]
    return line_panel(w, (61, 594, 63, 268), "2023-01-01", ("2023-01-01", "2023-12-31"), SEASON_JAN,
                      "%-m月", (-1500, 1000), 500,
                      list(zip([FG2101_BASIS, FG2201_BASIS, FG2301_BASIS, FG2401_BASIS], cols, lws)),
                      basis_legend(["FG2101基差", "FG2201基差", "FG2301基差", "FG2401基差"], cols, lws, w))


def chart6(w):
    cols, lws = [LGRAY, LBLUE, NAVY, RED], [2, 2, 2.5, 3.5]
    return line_panel(w, (57, 594, 62, 269), "2023-01-01", ("2023-01-01", "2023-12-31"), SEASON_JAN,
                      "%-m月", (-1000, 1500), 500,
                      list(zip([SA2101_BASIS, SA2201_BASIS, SA2301_BASIS, SA2401_BASIS], cols, lws)),
                      basis_legend(["SA2101基差", "SA2201基差", "SA2301基差", "SA2401基差"], cols, lws, w))


def spread_legend(names, w):
    cols = [LGRAY, LBLUE, NAVY, RED]
    return legend_layers([(n, c, 5, "line") for n, c in zip(names, cols)], y=30, cx=w / 2,
                         sw=34, gap=6)


def chart7(w):
    cols = [LGRAY, LBLUE, NAVY, RED]
    return line_panel(w, (60, 592, 65, 268), "2023-01-16", ("2023-01-16", "2023-09-15"), SEASON_16,
                      "%m-%d", (-600, 800), 200,
                      [(s, c, 3) for s, c in zip([FG2009_2101, FG2109_2201, FG2209_2301, FG2309_2401], cols)],
                      spread_legend(["FG2009-FG2101", "FG2109-FG2201", "FG2209-FG2301", "FG2309-FG2401"], w))


def chart8(w):
    cols = [LGRAY, LBLUE, NAVY, RED]
    return line_panel(w, (57, 594, 64, 268), "2023-01-16", ("2023-01-16", "2023-09-15"), SEASON_16,
                      "%m-%d", (-500, 1500), 500,
                      [(s, c, 3) for s, c in zip([SA2009_2101, SA2109_2201, SA2209_2301, SA2309_2401], cols)],
                      spread_legend(["SA2009-SA2101", "SA2109-SA2201", "SA2209-SA2301", "SA2309-SA2401"], w))


def chart9(w):
    cols = [LGRAY, LBLUE, NAVY, RED]
    return line_panel(w, (58, 596, 63, 271), "2023-05-16", ("2023-05-16", "2024-01-14"), SEASON_MAY,
                      "%m-%d", (-600, 400), 200,
                      [(s, c, 3) for s, c in zip([FG2101_2105, FG2201_2205, FG2301_2305, FG2401_2405], cols)],
                      spread_legend(["FG2101-FG2105", "FG2201-FG2205", "FG2301-FG2305", "FG2401-FG2405"], w))


def chart10(w):
    cols = [LGRAY, LBLUE, NAVY, RED]
    return line_panel(w, (57, 594, 64, 268), "2023-05-16", ("2023-05-16", "2024-01-14"), SEASON_MAY,
                      "%m-%d", (-600, 400), 200,
                      [(s, c, 3) for s, c in zip([SA2101_2105, SA2201_2205, SA2301_2305, SA2401_2405], cols)],
                      spread_legend(["SA2101-SA2105", "SA2201-SA2205", "SA2301-SA2305", "SA2401-SA2405"], w))


WEEK_TICKS = [str(d.date()) for d in pd.date_range("2022-01-07", "2023-08-25", freq="35D")]


def chart11(w):
    names = ["玻璃：以煤炭为燃料的浮法工艺：理论利润：中国（周）",
             "玻璃：以石油焦为燃料的浮法工艺：理论利润：中国（周）",
             "玻璃：以天然气为燃料的浮法工艺：理论利润：中国（周）"]
    cols = [LBLUE, NAVY, RED]
    leg = legend_layers([(n, c, 4, "line") for n, c in zip(names, cols)], y=34, left=45, dy=24,
                        fs=11.5, sw=30)
    return line_panel(w, (55, 590, 112, 210), "2022-01-07", ("2022-01-07", "2023-08-25"), WEEK_TICKS,
                      "%Y-%m-%d", (-500, 1500), 500,
                      [(s, c, 2.5) for s, c in zip([PROFIT_COAL, PROFIT_PETCOKE, PROFIT_GAS], cols)],
                      leg, angle=315, zero=False, xline=True, label_pad=5, fs=11)


def chart12(w):
    names = ["重质纯碱：氨碱法：生产毛利：华北地区（周）", "重质纯碱：联产法：生产毛利：华东地区（周）"]
    cols = [RED, NAVY]
    leg = legend_layers([(n, c, 4, "line") for n, c in zip(names, cols)], y=34, left=90, dy=24,
                        fs=11.5, sw=30)
    return line_panel(w, (60, 590, 85, 212), "2022-01-07", ("2022-01-07", "2023-08-25"), WEEK_TICKS,
                      "%Y-%m-%d", (0, 3000), 1000,
                      [(s, c, 2.5) for s, c in zip([SODA_AMMONIA, SODA_JOINT], cols)],
                      leg, angle=315, zero=False, xline=True, label_pad=5, fs=11)


def chart13(w):
    cols = [LGRAY, PALE, MIDBLUE, NAVY, RED]
    names = ["2019", "2020", "2021", "2022", "2023"]
    leg = legend_layers([(n, c, 4, "line") for n, c in zip(names, cols)], y=22, cx=w / 2, sw=30, gap=16)
    return line_panel(w, (55, 590, 55, 235), "2023-01-01", ("2023-01-01", "2023-12-31"), SEASON_JAN,
                      "%-m月%-d日", (0, 5000), 1000,
                      [(s, c, 2.5) for s, c in zip([GLASS_WR_2019, GLASS_WR_2020, GLASS_WR_2021,
                                                    GLASS_WR_2022, GLASS_WR_2023], cols)],
                      leg, angle=315, zero=False, xline=True, label_pad=5, fs=11)


def chart14(w):
    cols = [PALE, MIDBLUE, NAVY, RED]
    names = ["2020", "2021", "2022", "2023"]
    leg = legend_layers([(n, c, 4, "line") for n, c in zip(names, cols)], y=22, cx=w / 2, sw=30, gap=16)
    return line_panel(w, (60, 590, 55, 235), "2023-01-01", ("2023-01-01", "2023-12-31"), SEASON_JAN,
                      "%-m月%-d日", (0, 12000), 2000,
                      [(s, c, 2.5) for s, c in zip([SODA_WR_2020, SODA_WR_2021, SODA_WR_2022, SODA_WR_2023], cols)],
                      leg, angle=315, zero=False, xline=True, label_pad=5, fs=11)


PANELS = [
    ("图表1.玻璃现货价格（元/吨）", chart_glass_spot, "图表2.纯碱现货价格及轻重质价差（元/吨）", chart_soda_spot),
    ("图表3.玻璃09合约基差", chart3, "图表4.纯碱09合约基差", chart4),
    ("图表5.玻璃01合约基差", chart5, "图表6.纯碱01合约基差", chart6),
    ("图表7.玻璃9-1差", chart7, "图表8.纯碱9-1价差", chart8),
    ("图表9.玻璃1-5价差", chart9, "图表10.纯碱1-5价差", chart10),
    ("图表11.不同工艺浮法玻璃理论利润", chart11, "图表12.不同工艺重质纯碱生产毛利", chart12),
    ("图表13.玻璃仓单数量", chart13, "图表14.纯碱仓单数量", chart14),
]

rows = []
for lt, lf, rt, rf in PANELS:
    rows.append(alt.hconcat(titled(lt, lf(PW_L), PW_L), titled(rt, rf(PW_R), PW_R), spacing=0))

chart = alt.vconcat(build_top(), *rows, build_footer(), spacing=0).properties(
    padding={"left": 8, "top": 7, "right": 0, "bottom": 0}
).configure_view(strokeWidth=0)

chart.save("out.html", embed_options={"renderer": "svg", "actions": False})
